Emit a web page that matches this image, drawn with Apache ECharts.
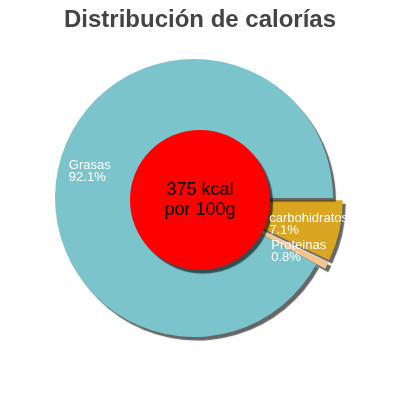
<!DOCTYPE html>
<html><head><meta charset="utf-8">
<script src="https://cdn.jsdelivr.net/npm/echarts@6/dist/echarts.min.js"></script>
<style>html,body{margin:0;padding:0;background:#fff}#c{width:400px;height:400px}</style>
</head><body><div id="c"></div>
<script>
const categories = ['carbohidratos', 'Proteinas', 'Grasas'];
const percentages = [7.1, 0.8, 92.1];
const exploded = [true, true, false];
const sliceColors = ['#daa520', '#f3c48e', '#7bc4cc'];
const centerLines = ['375 kcal', 'por 100g'];
const titleText = 'Distribución de calorías';

const chart = echarts.init(document.getElementById('c'), null, {renderer: 'canvas'});
const pieCenter = ['48.5%', '49.5%'];
const R = 139;
const shadow = {shadowColor: 'rgba(0,0,0,0.6)', shadowBlur: 1, shadowOffsetX: 3, shadowOffsetY: 3.5};
const pieData = categories.map((name, i) => ({
  name, value: percentages[i], selected: exploded[i], itemStyle: {color: sliceColors[i]}
}));
const labelData = categories.map((name, i) => ({
  name, value: percentages[i], selected: exploded[i]
}));
const font = 'Liberation Sans, Arial, sans-serif';
const lblStyle = {align: 'left', fontFamily: font, fontSize: 13, lineHeight: 12, color: '#fff'};
const option = {
  animation: false,
  title: {
    text: titleText, left: 'center', top: 3,
    textStyle: {fontFamily: font, fontSize: 24, fontWeight: 'bold', color: '#444'}
  },
  series: [
    {
      type: 'pie', center: pieCenter, radius: [0, R], startAngle: 0, clockwise: true,
      selectedMode: 'multiple', selectedOffset: 10, silent: true, z: 1,
      label: {show: false}, labelLine: {show: false},
      itemStyle: Object.assign({borderWidth: 0}, shadow),
      emphasis: {disabled: true},
      data: pieData
    },
    {
      type: 'pie', center: ['50%', '50%'], radius: [0, 70], silent: true, z: 2,
      emphasis: {disabled: true},
      itemStyle: Object.assign({color: '#ff0000', borderWidth: 0}, shadow),
      label: {show: true, position: 'center', fontFamily: font, fontSize: 18, lineHeight: 20, color: '#000'},
      labelLine: {show: false},
      data: [{value: 1, name: centerLines.join('\n')}]
    },
    {
      type: 'pie', center: pieCenter, radius: [70, R], startAngle: 0, clockwise: true,
      selectedMode: 'multiple', selectedOffset: 10, silent: true, z: 3,
      avoidLabelOverlap: false,
      itemStyle: {color: 'rgba(0,0,0,0)', borderWidth: 0},
      emphasis: {disabled: true},
      labelLine: {show: false},
      label: {
        show: true, position: 'inside', fontFamily: font, fontSize: 13, lineHeight: 12, color: '#fff',
        formatter: p => '{t|' + p.name + '}\n{t|' + p.value.toFixed(1) + '%}',
        rich: {t: lblStyle}
      },
      data: labelData
    }
  ]
};
chart.setOption(option);
</script></body></html>
